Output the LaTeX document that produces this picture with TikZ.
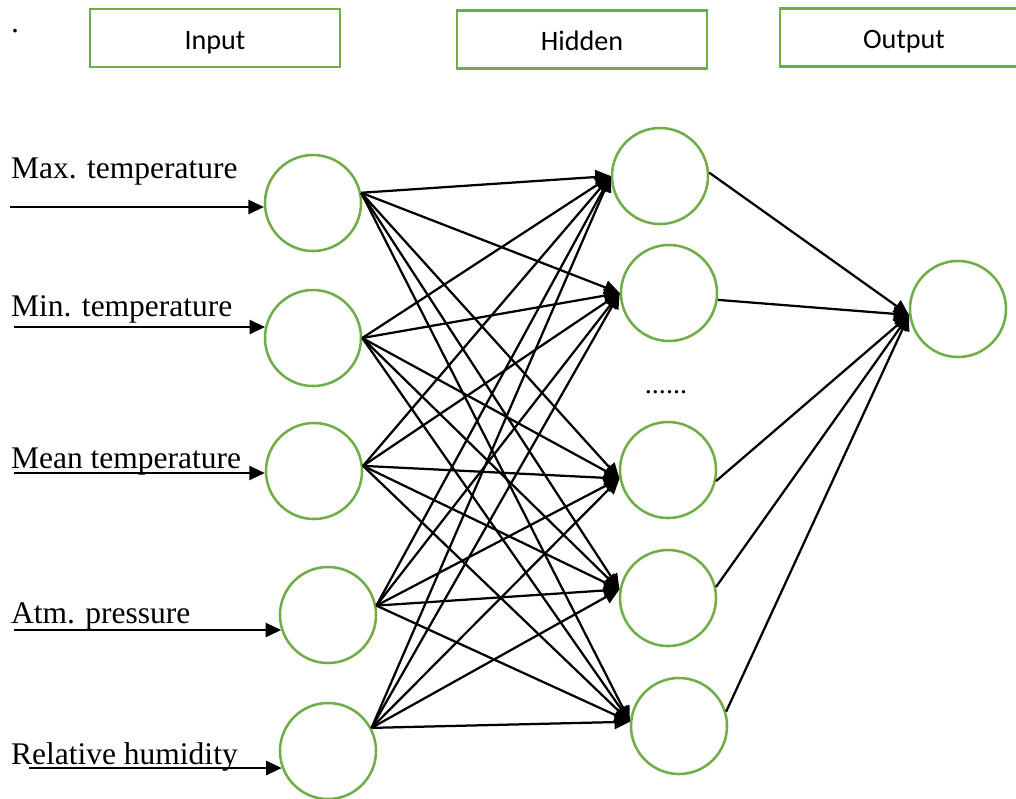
\documentclass[tikz,border=0pt]{standalone}
\usepackage{fontspec}
\setmainfont{Liberation Serif}
\newfontfamily\boxfont{Carlito}
\usetikzlibrary{arrows.meta}
\definecolor{leafgreen}{HTML}{70AD47}

\begin{document}
\begin{tikzpicture}[x=0.025cm,y=-0.025cm,line width=1.6pt,
  neuron/.style={circle,draw=leafgreen,line width=1.8pt,minimum size=2.4cm,inner sep=0pt},
  layerbox/.style={draw=leafgreen,line width=1.5pt,minimum height=1.45cm,inner sep=0pt,
    text height=16pt,text depth=0pt,font=\boxfont\fontsize{20}{24}\selectfont},
  feature/.style={anchor=base west,inner sep=0pt,font=\fontsize{22.4}{27}\selectfont},
  wire/.style={-{Triangle[length=11pt,width=10pt]}}]
\useasboundingbox (0,0) rectangle (1016,798);
\clip (0,0) rectangle (1016,798);
% layer titles
\node[anchor=base west,inner sep=0pt,font=\fontsize{22.4}{27}\selectfont] (mark) at (10,32) {.};
\node[layerbox,minimum width=6.25cm] (tin) at (215,38) {Input};
\node[layerbox,minimum width=6.25cm] (thid) at (582,39.5) {Hidden};
\node[layerbox,minimum width=6.2cm] (tout) at (904,37.5) {Output};
% neurons
\node[neuron] (in1) at (313,203) {};
\node[neuron] (in2) at (313,338) {};
\node[neuron] (in3) at (314,471) {};
\node[neuron] (in4) at (328,615) {};
\node[neuron] (in5) at (328,751) {};
\node[neuron] (hid1) at (660,176) {};
\node[neuron] (hid2) at (669,293) {};
\node[neuron] (hid3) at (668,470) {};
\node[neuron] (hid4) at (668,598) {};
\node[neuron] (hid5) at (679,726) {};
\node[neuron] (out) at (958,309) {};
\node[anchor=base,inner sep=0pt,font=\fontsize{20}{24}\selectfont] (dots) at (666,393) {......};
% inputs
\node[feature] (lmax) at (10,178) {Max. temperature};
\node[feature] (lmin) at (10,316) {Min. temperature};
\node[feature] (lmean) at (10,468) {Mean temperature};
\node[feature] (latm) at (10,623) {Atm. pressure};
\node[feature] (lhum) at (10,764) {Relative humidity};
\coordinate (s1) at (10,207);
\coordinate (s2) at (14,327);
\coordinate (s3) at (14,473);
\coordinate (s4) at (14,630);
\coordinate (s5) at (29,768);
\draw[wire] (s1) -- (s1 -| in1.185);
\draw[wire] (s2) -- (s2 -| in2.167);
\draw[wire] (s3) -- (s3 -| in3.182);
\draw[wire] (s4) -- (s4 -| in4.198);
\draw[wire] (s5) -- (s5 -| in5.200);
% input to hidden
\draw[wire] (in1.12) -- (hid1.180);
\draw[wire] (in1.12) -- (hid2.180);
\draw[wire] (in1.12) -- (hid3.190);
\draw[wire] (in1.12) -- (hid4.170);
\draw[wire] (in1.12) -- (hid5.175);
\draw[wire] (in2.0) -- (hid1.180);
\draw[wire] (in2.0) -- (hid2.180);
\draw[wire] (in2.0) -- (hid3.190);
\draw[wire] (in2.0) -- (hid4.170);
\draw[wire] (in2.0) -- (hid5.175);
\draw[wire] (in3.6) -- (hid1.180);
\draw[wire] (in3.6) -- (hid2.180);
\draw[wire] (in3.6) -- (hid3.190);
\draw[wire] (in3.6) -- (hid4.170);
\draw[wire] (in3.6) -- (hid5.175);
\draw[wire] (in4.11) -- (hid1.180);
\draw[wire] (in4.11) -- (hid2.180);
\draw[wire] (in4.11) -- (hid3.190);
\draw[wire] (in4.11) -- (hid4.170);
\draw[wire] (in4.11) -- (hid5.175);
\draw[wire] (in5.28) -- (hid1.180);
\draw[wire] (in5.28) -- (hid2.180);
\draw[wire] (in5.28) -- (hid3.190);
\draw[wire] (in5.28) -- (hid4.170);
\draw[wire] (in5.28) -- (hid5.175);
% hidden to output
\draw[wire] (hid1.4) -- (out.187);
\draw[wire] (hid2.352) -- (out.187);
\draw[wire] (hid3.347) -- (out.187);
\draw[wire] (hid4.13) -- (out.187);
\draw[wire] (hid5.17) -- (out.187);
\end{tikzpicture}
\end{document}
